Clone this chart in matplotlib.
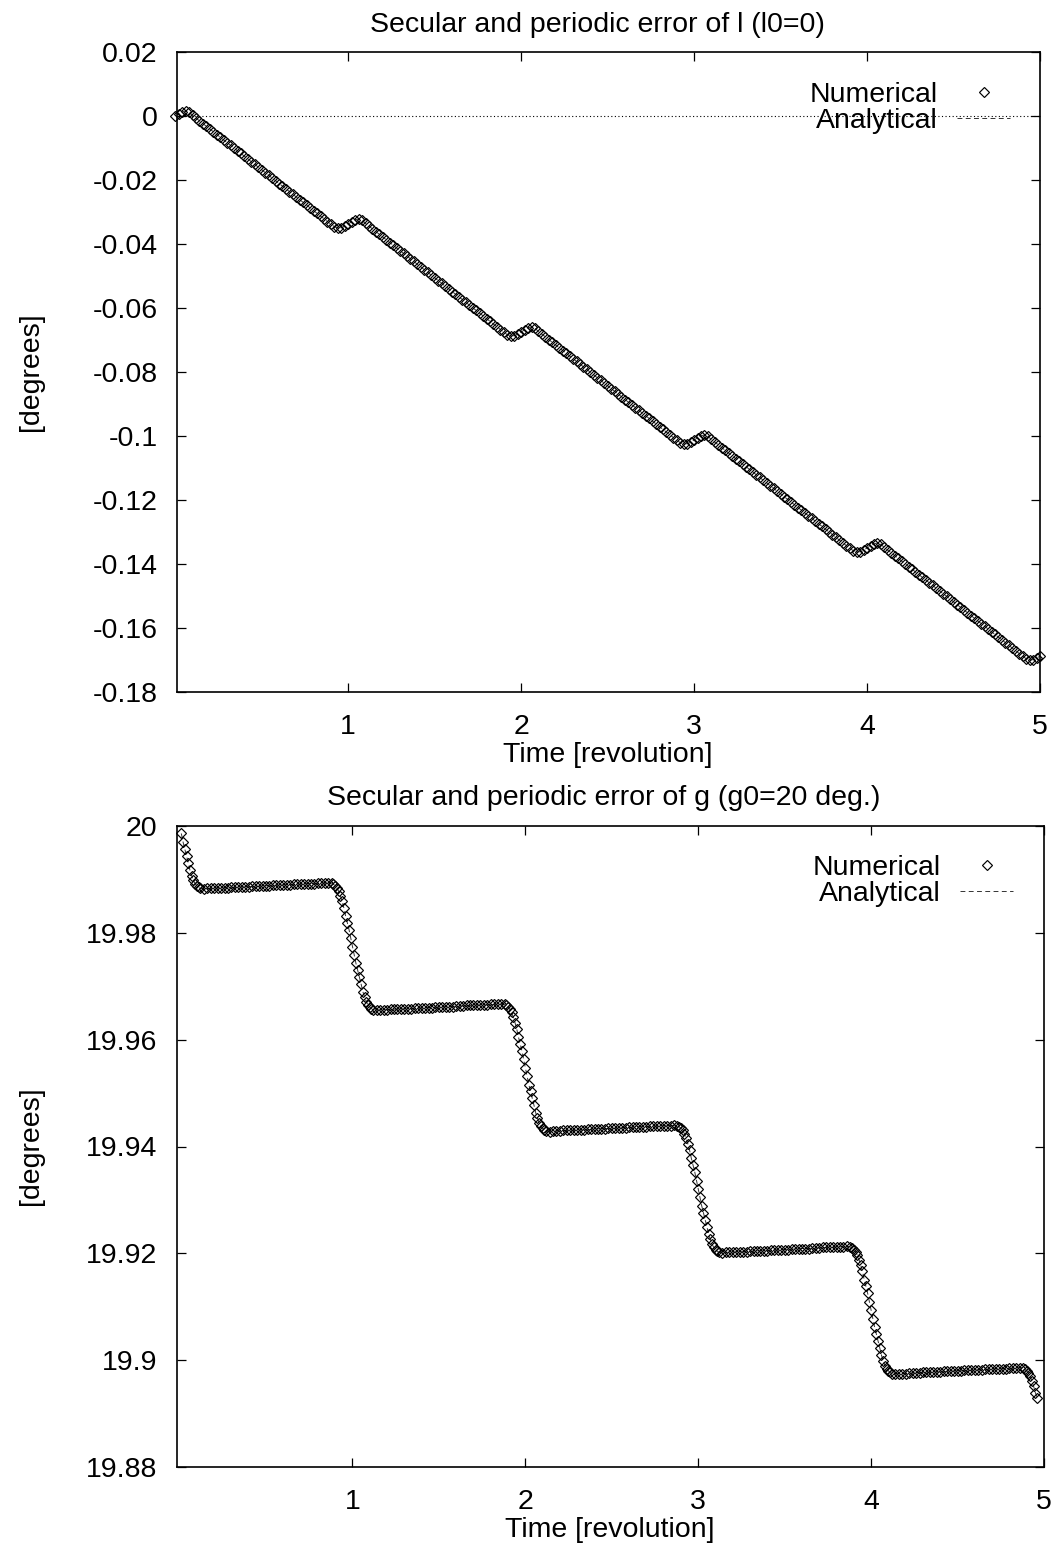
import numpy as np
import matplotlib
matplotlib.use("Agg")
import matplotlib.pyplot as plt
from matplotlib.ticker import FuncFormatter

plt.rcParams['font.family'] = ['Liberation Sans', 'DejaVu Sans']

# ---------------- data ----------------
# Top panel: error of l [deg], sampled every 0.02 revolution from t = 0 to 5.0
l_rev0 = [0.0000, 0.0007, 0.0013, 0.0016, 0.0011, 0.0002, -0.0007, -0.0015, -0.0024, -0.0032,
          -0.0041, -0.0049, -0.0058, -0.0066, -0.0075, -0.0083, -0.0092, -0.0100, -0.0109, -0.0117,
          -0.0126, -0.0134, -0.0143, -0.0151, -0.0160, -0.0168, -0.0177, -0.0185, -0.0194, -0.0202,
          -0.0211, -0.0219, -0.0228, -0.0236, -0.0245, -0.0253, -0.0262, -0.0270, -0.0279, -0.0287,
          -0.0296, -0.0304, -0.0313, -0.0321, -0.0330, -0.0338, -0.0346, -0.0350, -0.0349, -0.0344]
l_rev1 = [-0.03375, -0.03305, -0.03245, -0.03215, -0.03265, -0.03355, -0.03445, -0.03525, -0.03615, -0.03695,
          -0.03785, -0.03865, -0.03955, -0.04035, -0.04125, -0.04205, -0.04295, -0.04375, -0.04465, -0.04545,
          -0.04635, -0.04715, -0.04805, -0.04885, -0.04975, -0.05055, -0.05145, -0.05225, -0.05315, -0.05395,
          -0.05485, -0.05565, -0.05655, -0.05735, -0.05825, -0.05905, -0.05995, -0.06075, -0.06165, -0.06245,
          -0.06335, -0.06415, -0.06505, -0.06585, -0.06675, -0.06755, -0.06835, -0.06875, -0.06865, -0.06815]
l_rev2 = [-0.0675, -0.0668, -0.0662, -0.0659, -0.0664, -0.0673, -0.0682, -0.0690, -0.0699, -0.0707,
          -0.0716, -0.0724, -0.0733, -0.0741, -0.0750, -0.0758, -0.0767, -0.0775, -0.0784, -0.0792,
          -0.0801, -0.0809, -0.0818, -0.0826, -0.0835, -0.0843, -0.0852, -0.0860, -0.0869, -0.0877,
          -0.0886, -0.0894, -0.0903, -0.0911, -0.0920, -0.0928, -0.0937, -0.0945, -0.0954, -0.0962,
          -0.0971, -0.0979, -0.0988, -0.0996, -0.1005, -0.1013, -0.1021, -0.1025, -0.1024, -0.1019]
l_rev3 = [-0.10125, -0.10055, -0.09995, -0.09965, -0.10015, -0.10105, -0.10195, -0.10275, -0.10365, -0.10445,
          -0.10535, -0.10615, -0.10705, -0.10785, -0.10875, -0.10955, -0.11045, -0.11125, -0.11215, -0.11295,
          -0.11385, -0.11465, -0.11555, -0.11635, -0.11725, -0.11805, -0.11895, -0.11975, -0.12065, -0.12145,
          -0.12235, -0.12315, -0.12405, -0.12485, -0.12575, -0.12655, -0.12745, -0.12825, -0.12915, -0.12995,
          -0.13085, -0.13165, -0.13255, -0.13335, -0.13425, -0.13505, -0.13585, -0.13625, -0.13615, -0.13565]
l_rev4 = [-0.1350, -0.1343, -0.1337, -0.1334, -0.1339, -0.1348, -0.1357, -0.1365, -0.1374, -0.1382,
          -0.1391, -0.1399, -0.1408, -0.1416, -0.1425, -0.1433, -0.1442, -0.1450, -0.1459, -0.1467,
          -0.1476, -0.1484, -0.1493, -0.1501, -0.1510, -0.1518, -0.1527, -0.1535, -0.1544, -0.1552,
          -0.1561, -0.1569, -0.1578, -0.1586, -0.1595, -0.1603, -0.1612, -0.1620, -0.1629, -0.1637,
          -0.1646, -0.1654, -0.1663, -0.1671, -0.1680, -0.1688, -0.1696, -0.1700, -0.1699, -0.1694,
          -0.1688]
l_dt = 0.02

# Bottom panel: g [deg], sampled every 0.02 revolution from t = 0.02 to 4.96
g_step0 = [19.9970, 19.9944, 19.9917, 19.9898, 19.9888, 19.9883]
g_plat0 = [19.9882, 19.9883, 19.9883, 19.9883, 19.9884, 19.9884, 19.9884, 19.9884,
           19.9885, 19.9885, 19.9885, 19.9886, 19.9886, 19.9886, 19.9887, 19.9887, 19.9887,
           19.9888, 19.9888, 19.9888, 19.9889, 19.9889, 19.9889, 19.9890, 19.9890, 19.9890,
           19.9891, 19.9891, 19.9891, 19.9892, 19.9892, 19.9892, 19.9892,
           19.9893, 19.9893, 19.9893, 19.9894]
g_step1 = [19.9893, 19.9888, 19.9878, 19.9859, 19.9832, 19.9806, 19.9774, 19.9743, 19.9717,
           19.9690, 19.9671, 19.9661, 19.9656]
g_plat1 = [19.9655, 19.9656, 19.9656, 19.9656, 19.9657, 19.9657, 19.9657, 19.9657,
           19.9658, 19.9658, 19.9658, 19.9659, 19.9659, 19.9659, 19.9660, 19.9660, 19.9660,
           19.9661, 19.9661, 19.9661, 19.9662, 19.9662, 19.9662, 19.9663, 19.9663, 19.9663,
           19.9664, 19.9664, 19.9664, 19.9665, 19.9665, 19.9665, 19.9665,
           19.9666, 19.9666, 19.9666, 19.9667]
g_step2 = [19.9666, 19.9661, 19.9651, 19.9632, 19.9605, 19.9579, 19.9547, 19.9516, 19.9490,
           19.9463, 19.9444, 19.9434, 19.9429]
g_plat2 = [19.9428, 19.9429, 19.9429, 19.9429, 19.9430, 19.9430, 19.9430, 19.9430,
           19.9431, 19.9431, 19.9431, 19.9432, 19.9432, 19.9432, 19.9433, 19.9433, 19.9433,
           19.9434, 19.9434, 19.9434, 19.9435, 19.9435, 19.9435, 19.9436, 19.9436, 19.9436,
           19.9437, 19.9437, 19.9437, 19.9438, 19.9438, 19.9438, 19.9438,
           19.9439, 19.9439, 19.9439, 19.9440]
g_step3 = [19.9439, 19.9434, 19.9424, 19.9405, 19.9378, 19.9352, 19.9320, 19.9289, 19.9263,
           19.9236, 19.9217, 19.9207, 19.9202]
g_plat3 = [19.9201, 19.9202, 19.9202, 19.9202, 19.9203, 19.9203, 19.9203, 19.9203,
           19.9204, 19.9204, 19.9204, 19.9205, 19.9205, 19.9205, 19.9206, 19.9206, 19.9206,
           19.9207, 19.9207, 19.9207, 19.9208, 19.9208, 19.9208, 19.9209, 19.9209, 19.9209,
           19.9210, 19.9210, 19.9210, 19.9211, 19.9211, 19.9211, 19.9211,
           19.9212, 19.9212, 19.9212, 19.9213]
g_step4 = [19.9212, 19.9207, 19.9197, 19.9178, 19.9151, 19.9125, 19.9093, 19.9062, 19.9036,
           19.9009, 19.8990, 19.8980, 19.8975]
g_plat4 = [19.8974, 19.8975, 19.8975, 19.8975, 19.8976, 19.8976, 19.8976, 19.8976,
           19.8977, 19.8977, 19.8977, 19.8978, 19.8978, 19.8978, 19.8979, 19.8979, 19.8979,
           19.8980, 19.8980, 19.8980, 19.8981, 19.8981, 19.8981, 19.8982, 19.8982, 19.8982,
           19.8983, 19.8983, 19.8983, 19.8984, 19.8984, 19.8984, 19.8984,
           19.8985, 19.8985, 19.8985, 19.8986]
g_step5 = [19.8985, 19.8980, 19.8970, 19.8951, 19.8930]
g_t0, g_dt = 0.02, 0.02

# extra samples inside the fast steps (odd hundredths of a revolution)
g_fine_t = [0.01, 0.03, 0.05, 0.07, 0.09, 0.11,
            0.89, 0.91, 0.93, 0.95, 0.97, 0.99, 1.01, 1.03, 1.05, 1.07, 1.09, 1.11,
            1.89, 1.91, 1.93, 1.95, 1.97, 1.99, 2.01, 2.03, 2.05, 2.07, 2.09, 2.11,
            2.89, 2.91, 2.93, 2.95, 2.97, 2.99, 3.01, 3.03, 3.05, 3.07, 3.09, 3.11,
            3.89, 3.91, 3.93, 3.95, 3.97, 3.99, 4.01, 4.03, 4.05, 4.07, 4.09, 4.11,
            4.89, 4.91, 4.93, 4.95]
g_fine = [19.9986, 19.9957, 19.9931, 19.9907, 19.9892, 19.9885,
          19.9891, 19.9884, 19.9869, 19.9847, 19.9819, 19.9790, 19.9759, 19.9730, 19.9704, 19.9680, 19.9665, 19.9658,
          19.9664, 19.9657, 19.9642, 19.9620, 19.9592, 19.9563, 19.9532, 19.9503, 19.9477, 19.9453, 19.9438, 19.9431,
          19.9437, 19.9430, 19.9415, 19.9393, 19.9365, 19.9336, 19.9305, 19.9276, 19.9250, 19.9226, 19.9211, 19.9204,
          19.9210, 19.9203, 19.9188, 19.9166, 19.9138, 19.9109, 19.9078, 19.9049, 19.9023, 19.8999, 19.8984, 19.8977,
          19.8983, 19.8976, 19.8961, 19.8939]

x_ticks = [1, 2, 3, 4, 5]
y_ticks_l = [0.02, 0.0, -0.02, -0.04, -0.06, -0.08, -0.1, -0.12, -0.14, -0.16, -0.18]
y_ticks_g = [19.88, 19.9, 19.92, 19.94, 19.96, 19.98, 20.0]

title_l = "Secular and periodic error of l (l0=0)"
title_g = "Secular and periodic error of g (g0=20 deg.)"
x_label = "Time [revolution]"
y_label = "[degrees]"
legend_labels = ["Numerical", "Analytical"]

# ---------------- assemble series ----------------
l_values = np.array(l_rev0 + l_rev1 + l_rev2 + l_rev3 + l_rev4)
t_l = l_dt * np.arange(len(l_values))

g_coarse = np.array(g_step0 + g_plat0 + g_step1 + g_plat1 + g_step2 + g_plat2 +
                    g_step3 + g_plat3 + g_step4 + g_plat4 + g_step5)
t_g_coarse = g_t0 + g_dt * np.arange(len(g_coarse))
assert len(g_fine_t) == len(g_fine)
t_g = np.concatenate([t_g_coarse, np.array(g_fine_t)])
g_values = np.concatenate([g_coarse, np.array(g_fine)])
order = np.argsort(t_g)
t_g, g_values = t_g[order], g_values[order]

# ---------------- figure ----------------
W, H = 1056, 1548
FS = 20.5
fig = plt.figure(figsize=(W / 100, H / 100), dpi=100)


def px_axes(l, r, t, b):
    return [l / W, 1 - b / H, (r - l) / W, (b - t) / H]


ax1 = fig.add_axes(px_axes(177, 1040, 52, 692))
ax2 = fig.add_axes(px_axes(177, 1044, 826, 1467))


def fmt(v, pos=None):
    v = round(v, 6)
    if v == 0:
        return "0"
    return f"{v:g}"


def style(ax, xlim, ylim, yticks):
    ax.set_xlim(*xlim)
    ax.set_ylim(*ylim)
    ax.set_xticks(x_ticks)
    ax.set_xticklabels([str(x) for x in x_ticks])
    ax.set_yticks(yticks)
    ax.yaxis.set_major_formatter(FuncFormatter(fmt))
    ax.tick_params(direction='in', length=6.5, width=0.9, top=True, right=True,
                   labelsize=FS, colors='black')
    ax.tick_params(axis='y', pad=14.0)
    ax.tick_params(axis='x', pad=15.5)
    for s in ax.spines.values():
        s.set_linewidth(1.2)
        s.set_color('black')


marker_kw = dict(ls='none', marker='D', ms=5.6, mfc='none', mec='black', mew=0.85,
                 clip_on=False, zorder=3)
dash_kw = dict(ls=(0, (5, 3.5)), lw=0.7, color='#333333', zorder=2)

# Top panel
style(ax1, (0.01, 5.0), (-0.18, 0.02), y_ticks_l)
ax1.axhline(0, ls=(0, (1, 2.2)), lw=0.8, color='black', zorder=1)
h1, = ax1.plot(t_l, l_values, **marker_kw)
h2, = ax1.plot(t_l, l_values, **dash_kw)
leg_kw = dict(loc='upper right', markerfirst=False, frameon=False, fontsize=FS,
              handlelength=1.85, handletextpad=0.7, labelspacing=0.0,
              borderpad=0, borderaxespad=0, numpoints=1)
ax1.legend(handles=[h1, h2], labels=legend_labels, bbox_to_anchor=(0.9652, 0.953), **leg_kw)

# Bottom panel
style(ax2, (-0.015, 5.0), (19.88, 20.0), y_ticks_g)
h3, = ax2.plot(t_g, g_values, **marker_kw)
h4, = ax2.plot(t_g, g_values, **dash_kw)
ax2.legend(handles=[h3, h4], labels=legend_labels, bbox_to_anchor=(0.9642, 0.9548), **leg_kw)

# Titles and axis labels
fig.text(597 / W, 1 - 32 / H, title_l, ha='center', va='baseline', fontsize=FS)
fig.text(604 / W, 1 - 805 / H, title_g, ha='center', va='baseline', fontsize=FS)
fig.text(608 / W, 1 - 762 / H, x_label, ha='center', va='baseline', fontsize=FS)
fig.text(610 / W, 1 - 1537 / H, x_label, ha='center', va='baseline', fontsize=FS)
fig.text(31 / W, 1 - 372 / H, y_label, ha='center', va='center', rotation=90, fontsize=FS)
fig.text(31 / W, 1 - 1146 / H, y_label, ha='center', va='center', rotation=90, fontsize=FS)

fig.savefig("out.png", dpi=100, facecolor='white')
